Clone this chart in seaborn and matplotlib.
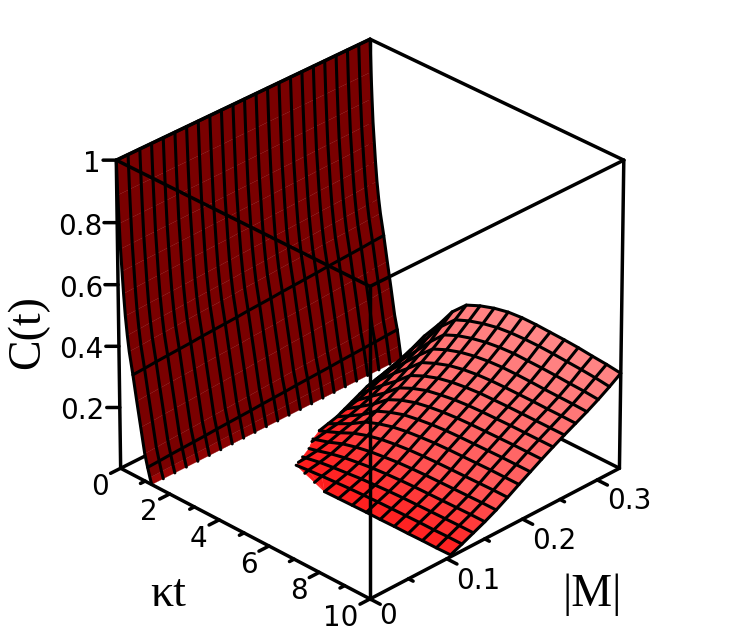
#importing numpy, matplotlib and seaborn
import numpy as np
import matplotlib
matplotlib.use("Agg")
import matplotlib.pyplot as plt
import seaborn as sns
from mpl_toolkits.mplot3d import proj3d
from mpl_toolkits.mplot3d.art3d import Poly3DCollection

nan = float("nan")

#axis limits and ticks
k_lim = [0, 10]
m_lim = [0, 0.33]
c_lim = [0, 1]
k_major = [0, 2, 4, 6, 8, 10]
k_minor = [1, 3, 5, 7, 9]
k_labels = ["0", "2", "4", "6", "8", "10"]
m_major = [0, 0.1, 0.2, 0.3]
m_minor = [0.05, 0.15, 0.25]
m_labels = ["0", "0.1", "0.2", "0.3"]
c_major = [0.2, 0.4, 0.6, 0.8, 1]
c_labels = ["0.2", "0.4", "0.6", "0.8", "1"]

#dark sheet: decay at small kt, a little slower for larger |M|
k_dark = [0, 0.04, 0.08, 0.12, 0.17, 0.22, 0.28, 0.35, 0.42, 0.556, 0.7, 0.85, 1.0, 1.11, 1.2, 1.27]
c_dark = [1, 0.89, 0.8, 0.72, 0.65, 0.58, 0.51, 0.45, 0.4, 0.33, 0.25, 0.17, 0.09, 0.05, 0.02, 0]
dark_bump = [0, 0.1, 0.2, 0.3, 0.45, 0.6, 0.75, 0.85, 0.95, 1, 1, 1, 0.9, 0.8, 0.4, 0]
m_dark = [0, 0.015, 0.03, 0.045, 0.06, 0.075, 0.09, 0.105, 0.12, 0.135, 0.15, 0.165,
          0.18, 0.195, 0.21, 0.225, 0.24, 0.255, 0.27, 0.285, 0.3, 0.315, 0.33]
dark_lift = [0, .002, .005, .007, .009, .011, .014, .016, .018, .02, .023, .025,
             .027, .03, .032, .034, .036, .039, .041, .043, .045, .048, .05]
k_dark_lines = [0, 9, 13]

#light sheet: revival part, rows are kt and columns are |M|
k_light = [1.67, 2.22, 2.78, 3.33, 3.89, 4.44, 5.0, 5.56, 6.11, 6.67, 7.22, 7.78, 8.33, 8.89, 9.44, 10]
m_light = [0.33, 0.315, 0.3, 0.285, 0.27, 0.255, 0.24, 0.225, 0.21, 0.195, 0.18, 0.165, 0.15, 0.135, 0.12, 0.105]
#kt where each |M| column leaves zero
k_edge = [1.3, 1.4, 1.5, 1.6, 1.7, 1.85, 2.0, 2.15, 2.3, 2.4, 2.5, 2.7, 3.0, 3.2, 3.4, 5.0]
c_light = [
    [.047, .031, .018, .007, nan, nan, nan, nan, nan, nan, nan, nan, nan, nan, nan, nan],
    [.115, .094, .074, .059, .044, .028, .014, .004, nan, nan, nan, nan, nan, nan, nan, nan],
    [.175, .15, .125, .106, .088, .068, .05, .035, .023, .016, .009, .002, nan, nan, nan, nan],
    [.24, .21, .178, .152, .127, .104, .084, .066, .05, .039, .028, .016, .007, .002, nan, nan],
    [.285, .255, .224, .196, .17, .146, .124, .104, .085, .068, .05, .034, .02, .011, .004, nan],
    [.305, .274, .244, .216, .19, .167, .145, .125, .104, .085, .065, .046, .03, .017, .008, nan],
    [.32, .288, .258, .231, .206, .183, .161, .14, .119, .098, .076, .055, .037, .022, .011, nan],
    [.33, .298, .268, .241, .216, .193, .17, .149, .127, .106, .083, .061, .043, .027, .014, .001],
    [.334, .303, .274, .247, .222, .199, .177, .155, .133, .111, .088, .066, .047, .03, .016, .002],
    [.334, .305, .277, .25, .225, .203, .181, .159, .137, .115, .091, .069, .05, .033, .018, .003],
    [.332, .305, .276, .25, .226, .204, .183, .161, .139, .117, .093, .071, .052, .035, .019, .003],
    [.33, .303, .275, .249, .226, .205, .184, .162, .14, .118, .094, .072, .053, .036, .02, .004],
    [.327, .3, .273, .247, .226, .205, .185, .163, .141, .119, .095, .073, .054, .037, .021, .004],
    [.322, .297, .27, .246, .225, .205, .185, .164, .142, .12, .096, .074, .055, .038, .021, .005],
    [.318, .293, .268, .245, .225, .205, .185, .164, .142, .12, .097, .075, .056, .039, .022, .005],
    [.312, .287, .264, .243, .224, .205, .185, .164, .142, .12, .097, .075, .056, .039, .022, .006],
]

sns.set_theme(style="white")

fig = plt.figure(figsize=(7.4, 6.33), dpi=100)
ax = fig.add_axes([-0.0115, -0.012, 1, 1], projection="3d", computed_zorder=False)
ax.set_proj_type("persp", focal_length=3)
ax.view_init(elev=30, azim=-45)
ax.set_box_aspect((1, 1, 1), zoom=0.945)
ax.set_xlim(k_lim[0], k_lim[1], view_margin=0)
ax.set_ylim(m_lim[0], m_lim[1], view_margin=0)
ax.set_zlim(c_lim[0], c_lim[1], view_margin=0)
ax.set_axis_off()
ax.patch.set_alpha(0)

k0, k1 = k_lim
m0, m1 = m_lim
c0, c1 = c_lim
box_lw = 2.5
mesh_lw = 2.2

#box edges hidden behind the surfaces
ax.plot([k0, k0], [m1, m1], [c0, c1], color="black", lw=box_lw, zorder=1)
ax.plot([k1, k1], [m1, m1], [c0, c1], color="black", lw=box_lw, zorder=1)
ax.plot([k0, k1], [m1, m1], [c1, c1], color="black", lw=box_lw, zorder=1)
ax.plot([k0, k1], [m1, m1], [c0, c0], color="black", lw=box_lw, zorder=1)
ax.plot([k0, k0], [m0, m1], [c0, c0], color="black", lw=box_lw, zorder=1)
ax.plot([k0, k0], [m0, m0], [c0, c1], color="black", lw=box_lw, zorder=1)

#dark sheet
K_d, M_d = np.meshgrid(k_dark, m_dark)
C_d = np.array(c_dark) + np.outer(dark_lift, dark_bump)
dark_cmap = sns.blend_palette(["#e01010", "#7a0000", "#7a0000"], as_cmap=True)
dark_face = dark_cmap(np.clip(C_d / 0.06, 0, 1))
ax.plot_surface(K_d, M_d, C_d, facecolors=dark_face, shade=False, rstride=1, cstride=1,
                linewidth=0.2, zorder=2)
for j in range(len(m_dark)):
    ax.plot(k_dark, [m_dark[j]] * len(k_dark), C_d[j, :], color="black", lw=mesh_lw, zorder=3)
for i in k_dark_lines:
    ax.plot([k_dark[i]] * len(m_dark), m_dark, C_d[:, i], color="black", lw=mesh_lw, zorder=3)

#light sheet, cells below zero collapse onto the edge of the region
C_l = np.array(c_light)
empty = np.isnan(C_l)
K_l = np.tile(np.array(k_light)[:, None], (1, len(m_light)))
K_l = np.where(empty, np.array(k_edge)[None, :], K_l)
C_f = np.where(empty, 0.0, C_l)
edge_row = np.column_stack([k_edge, m_light, np.zeros(len(m_light))])
light_cmap = sns.blend_palette(["#ff1a1a", "#ff5252", "#ff6868", "#ff7878", "#ff8686"], as_cmap=True)
verts = []
faces = []
for j in range(len(m_light) - 1):
    #strip between the edge and the first row
    verts.append([edge_row[j], (K_l[0, j], m_light[j], C_f[0, j]), (K_l[0, j + 1], m_light[j + 1], C_f[0, j + 1]), edge_row[j + 1]])
    faces.append(light_cmap(0.02))
    for i in range(len(k_light) - 1):
        corners = [(i, j), (i + 1, j), (i + 1, j + 1), (i, j + 1)]
        if empty[i, j] and empty[i + 1, j] and empty[i, j + 1] and empty[i + 1, j + 1]:
            continue
        verts.append([(K_l[a, b], m_light[b], C_f[a, b]) for a, b in corners])
        faces.append(light_cmap(np.mean([C_f[a, b] for a, b in corners]) / 0.32))
poly = Poly3DCollection(verts, facecolors=faces, edgecolors=faces, linewidths=0.2, zorder=4)
ax.add_collection3d(poly, autolim=False)
#mesh lines, each stops where it reaches the edge of the region
for i in range(len(k_light)):
    keep = ~empty[i, :]
    ks = list(K_l[i, keep])
    ms = list(np.array(m_light)[keep])
    cs = list(C_f[i, keep])
    if not keep.all():
        ks.append(k_light[i])
        ms.append(np.interp(k_light[i], k_edge, m_light))
        cs.append(0)
    ax.plot(ks, ms, cs, color="black", lw=mesh_lw, zorder=5)
for j in range(len(m_light)):
    keep = ~empty[:, j]
    ax.plot([k_edge[j]] + list(K_l[keep, j]), [m_light[j]] * (keep.sum() + 1), [0] + list(C_f[keep, j]),
            color="black", lw=mesh_lw, zorder=5)
ax.plot(k_edge[:11], m_light[:11], [0] * 11, color="black", lw=mesh_lw, zorder=5)

#box edges in front of the surfaces
ax.plot([k1, k1], [m0, m0], [c0, c1], color="black", lw=box_lw, zorder=6)
ax.plot([k0, k1], [m0, m0], [c1, c1], color="black", lw=box_lw, zorder=6)
ax.plot([k1, k1], [m0, m1], [c1, c1], color="black", lw=box_lw, zorder=6)
ax.plot([k0, k0], [m0, m1], [c1, c1], color="black", lw=box_lw, zorder=6)
ax.plot([k0, k1], [m0, m0], [c0, c0], color="black", lw=box_lw, zorder=6)
ax.plot([k1, k1], [m0, m1], [c0, c0], color="black", lw=box_lw, zorder=6)

#tick marks
for v in k_major:
    ax.plot([v, v], [m0, m0 - 0.013], [c0, c0], color="black", lw=box_lw, zorder=6)
for v in k_minor:
    ax.plot([v, v], [m0, m0 - 0.006], [c0, c0], color="black", lw=box_lw, zorder=6)
for v in m_major:
    ax.plot([k1, k1 + 0.4], [v, v], [c0, c0], color="black", lw=box_lw, zorder=6)
for v in m_minor:
    ax.plot([k1, k1 + 0.18], [v, v], [c0, c0], color="black", lw=box_lw, zorder=6)
for v in c_major:
    ax.plot([k0, k0 - 0.26], [m0, m0 - 0.0086], [v, v], color="black", lw=box_lw, zorder=6)

#labels go on the figure, at the point where the 3d position lands
fig.canvas.draw()


def put_text(k, m, c, label, **kwargs):
    x2, y2, _ = proj3d.proj_transform(k, m, c, ax.get_proj())
    px, py = ax.transData.transform((x2, y2))
    fig.text(px / fig.bbox.width, py / fig.bbox.height, label, color="black", **kwargs)


tick_font = {"family": "DejaVu Sans", "size": 20}
for v, label in zip(k_major, k_labels):
    put_text(v + 0.49, m0 - 0.031, c0, label, ha="right", va="center", **tick_font)
for v, label in zip(m_major, m_labels):
    #the label under the front corner sits a little higher
    lift = 0.018 if label == "0" else 0
    put_text(k1 + 1.02, v - 0.0215, c0 + lift, label, ha="left", va="center", **tick_font)
for v, label in zip(c_major, c_labels):
    put_text(k0 - 0.3, m0 - 0.01, v - 0.013, label, ha="right", va="center", **tick_font)

#axis titles
title_font = {"family": "Liberation Serif", "size": 33}
put_text(5.88, -0.126, c0, "κt", ha="center", va="center", **title_font)
put_text(14.2, 0.15, c0, "|M|", ha="center", va="center", **title_font)
put_text(-1.8, -0.06, 0.447, "C(t)", ha="center", va="center", rotation=90, **title_font)

plt.savefig("out.png", dpi=100)
